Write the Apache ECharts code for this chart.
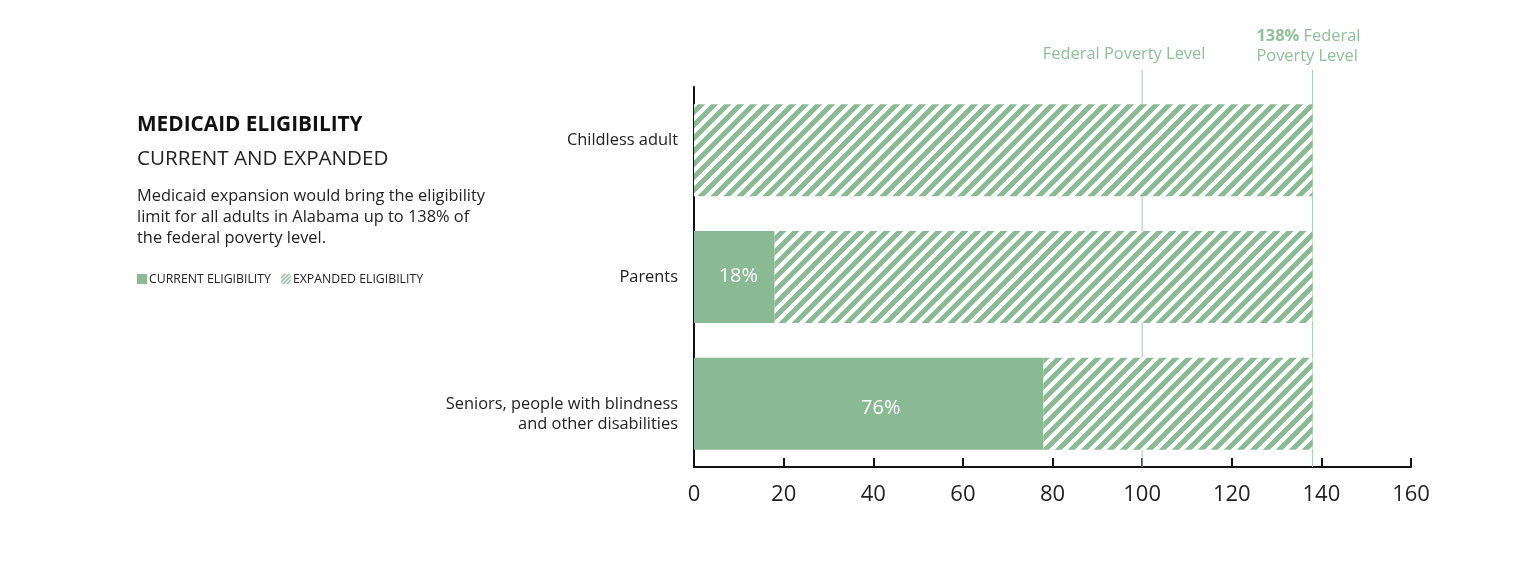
<!DOCTYPE html>
<html>
<head>
<meta charset="utf-8">
<script src="https://cdn.jsdelivr.net/npm/echarts@6/dist/echarts.min.js"></script>
<style>
html,body{margin:0;padding:0;background:#fff;}
#chart{width:1536px;height:561px;}
</style>
</head>
<body>
<div id="chart"></div>
<script>
// ---- data ----
const categories = ['Childless adult', 'Parents', 'Seniors, people with blindness\nand other disabilities'];
const currentEligibility = [0, 18, 78];
const currentLabels = ['', '18%', '76%'];
const expandedLimit = [138, 138, 138];
const xTicks = { min: 0, max: 160, interval: 20 };
const povertyLine = 100;
const expandedLine = 138;
const titleText = 'MEDICAID ELIGIBILITY';
const subtitleText = 'CURRENT AND EXPANDED';
const bodyText = 'Medicaid expansion would bring the eligibility\nlimit for all adults in Alabama up to 138% of\nthe federal poverty level.';
const legendNames = ['CURRENT ELIGIBILITY', 'EXPANDED ELIGIBILITY'];

const GREEN = '#8aba94';
const LINE_GREEN = '#a3cfac';
const LABEL_GREEN = '#8fc09a';
const FONT = "'Open Sans', sans-serif";
const catLabelShift = [-10, 0, 11];

function hatch(size, lw) {
  const c = document.createElement('canvas');
  c.width = c.height = size;
  const g = c.getContext('2d');
  g.fillStyle = '#fff';
  g.fillRect(0, 0, size, size);
  g.strokeStyle = GREEN;
  g.lineWidth = lw;
  g.beginPath();
  for (const k of [-1, 0, 1]) {
    g.moveTo(k * size - size, 2 * size);
    g.lineTo(k * size + 2 * size, -size);
  }
  g.stroke();
  return c;
}
const bigHatch = { image: hatch(13, 5), repeat: 'repeat' };
const smallHatch = { image: hatch(4, 1.4), repeat: 'repeat' };

const expandedRemainder = expandedLimit.map((v, i) => v - currentEligibility[i]);

const chart = echarts.init(document.getElementById('chart'), null, { renderer: 'canvas' });

chart.setOption({
  animation: false,
  textStyle: { fontFamily: FONT },
  grid: { left: 694, right: 125, top: 87, bottom: 94 },
  legend: {
    left: 137, top: 273, padding: 0,
    itemWidth: 10, itemHeight: 10, itemGap: 10,
    icon: 'rect',
    textStyle: { fontSize: 12.3, color: '#222', fontFamily: FONT, padding: [0, 0, 0, -3] },
    data: [
      { name: legendNames[0], itemStyle: { color: GREEN } },
      { name: legendNames[1], itemStyle: { color: smallHatch } }
    ]
  },
  xAxis: {
    type: 'value',
    min: xTicks.min, max: xTicks.max, interval: xTicks.interval,
    axisLine: { show: true, lineStyle: { color: '#111', width: 2 } },
    axisTick: { show: true, inside: true, length: 9, lineStyle: { color: '#111', width: 2 } },
    axisLabel: { fontSize: 22, color: '#222', margin: 17, fontFamily: FONT },
    splitLine: { show: false }
  },
  yAxis: {
    type: 'category',
    inverse: true,
    data: categories,
    axisLine: { show: true, lineStyle: { color: '#111', width: 2 } },
    axisTick: { show: false },
    axisLabel: { show: false }
  },
  series: [
    {
      name: legendNames[0],
      type: 'bar',
      stack: 'a',
      barWidth: 92,
      z: 3,
      itemStyle: { color: GREEN },
      label: {
        show: true,
        position: 'inside',
        color: '#fff',
        fontSize: 20,
        fontFamily: FONT,
        formatter: p => currentLabels[p.dataIndex]
      },
      data: currentEligibility.map((v, i) =>
        i === 2 ? { value: v, label: { offset: [12, 5] } } :
        i === 1 ? { value: v, label: { offset: [4, -1] } } : v)
    },
    {
      name: legendNames[1],
      type: 'bar',
      stack: 'a',
      barWidth: 92,
      z: 3,
      itemStyle: { color: bigHatch },
      data: expandedRemainder
    }
  ]
});

function drawRefs() {
  const x100 = chart.convertToPixel({ xAxisIndex: 0 }, povertyLine);
  const x138 = chart.convertToPixel({ xAxisIndex: 0 }, expandedLine);
  const x0 = chart.convertToPixel({ xAxisIndex: 0 }, 0);
  const axisY = 467;
  const g = [
    { type: 'line', z: 1, shape: { x1: x100, y1: 70, x2: x100, y2: axisY }, style: { stroke: LINE_GREEN, lineWidth: 1 } },
    { type: 'line', z: 1, shape: { x1: x138, y1: 70, x2: x138, y2: axisY }, style: { stroke: LINE_GREEN, lineWidth: 1 } },
    { type: 'text', z: 5, style: { text: 'Federal Poverty Level', x: x100 - 18, y: 54, textAlign: 'center', textVerticalAlign: 'middle', fontSize: 16.4, fontFamily: FONT, fill: LABEL_GREEN } },
    { type: 'text', z: 5, style: {
        text: '{b|138%} Federal\nPoverty Level', x: x138 - 56, y: 26, textAlign: 'left', textVerticalAlign: 'top',
        fontSize: 16.4, fontFamily: FONT, fill: LABEL_GREEN, lineHeight: 20,
        rich: { b: { fontWeight: 'bold', fontSize: 16.4, fontFamily: FONT, fill: LABEL_GREEN, lineHeight: 20 } } } },
    { type: 'text', style: { text: titleText, x: 137, y: 125, textVerticalAlign: 'middle', fontSize: 20.8, fontWeight: 'bold', fontFamily: FONT, fill: '#111' } },
    { type: 'text', style: { text: subtitleText, x: 137, y: 159, textVerticalAlign: 'middle', fontSize: 20.6, fontFamily: FONT, fill: '#222' } },
    { type: 'text', style: { text: bodyText, x: 137, y: 186, textVerticalAlign: 'top', fontSize: 16.4, lineHeight: 21, fontFamily: FONT, fill: '#222' } }
  ];
  categories.forEach((c, i) => {
    const cy = chart.convertToPixel({ yAxisIndex: 0 }, i);
    g.push({ type: 'text', style: { text: c, x: x0 - 16, y: cy + catLabelShift[i], textAlign: 'right', textVerticalAlign: 'middle', fontSize: 16.4, lineHeight: 20, fontFamily: FONT, fill: '#222' } });
  });
  chart.setOption({ graphic: g });
}
drawRefs();
</script>
</body>
</html>
